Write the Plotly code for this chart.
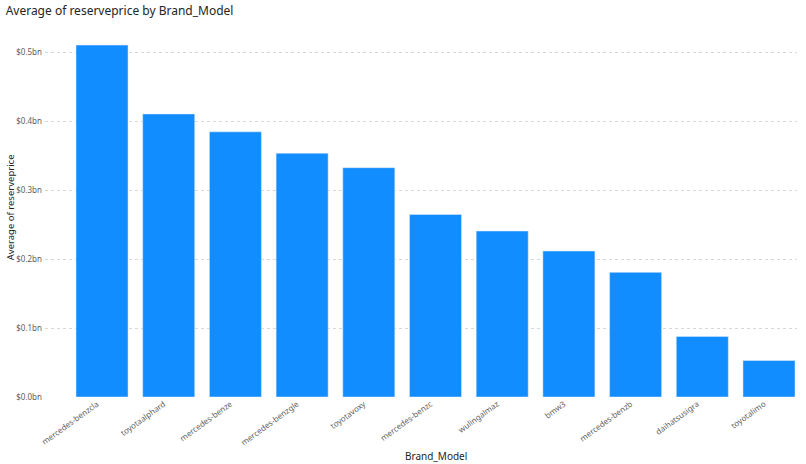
import plotly.graph_objects as go

# ================= DATA =================
brand_models = [
    "mercedes-benzcla", "toyotaalphard", "mercedes-benze", "mercedes-benzgle",
    "toyotavoxy", "mercedes-benzc", "wulingalmaz", "bmw3",
    "mercedes-benzb", "daihatsusigra", "toyotalimo",
]
avg_reserveprice_bn = [0.511, 0.411, 0.385, 0.354, 0.333, 0.265, 0.241, 0.212, 0.181, 0.088, 0.053]

y_tickvals = [0.0, 0.1, 0.2, 0.3, 0.4, 0.5]
y_ticktext = ["$0.0bn", "$0.1bn", "$0.2bn", "$0.3bn", "$0.4bn", "$0.5bn"]

plot_title = "Average of reserveprice by Brand_Model"
x_title = "Brand_Model"
y_title = "Average of reserveprice"

FONT = "Noto Sans, Roboto, sans-serif"

# ================= PLOT =================
fig = go.Figure(
    go.Bar(
        x=list(range(len(brand_models))),
        y=avg_reserveprice_bn,
        marker=dict(color="#118DFF"),
        hovertext=brand_models,
    )
)

fig.update_layout(
    width=806,
    height=464,
    plot_bgcolor="white",
    paper_bgcolor="white",
    bargap=0.22,
    showlegend=False,
    margin=dict(l=45, r=9, t=32, b=67),
    font=dict(family=FONT),
    title=dict(
        text=plot_title,
        x=0.007,
        xanchor="left",
        y=0.985,
        yanchor="top",
        font=dict(size=12, color="#252423"),
    ),
)

fig.update_xaxes(
    range=[-0.855, 10.42],
    tickvals=list(range(len(brand_models))),
    ticktext=brand_models,
    tickangle=-36,
    tickfont=dict(size=8, color="#605E5C"),
    ticklabelshift=-5,
    showgrid=False,
    zeroline=False,
    showline=False,
    ticks="",
    automargin=False,
)

fig.update_yaxes(
    range=[0, 0.53],
    tickvals=y_tickvals,
    ticktext=y_ticktext,
    tickfont=dict(size=8, color="#605E5C"),
    showgrid=True,
    gridcolor="#D8D8D8",
    griddash="dot",
    gridwidth=1,
    zeroline=False,
    showline=False,
    ticks="",
    ticklabelstandoff=2,
    automargin=False,
)

# as titels (Power BI centreert op de categorieen)
fig.add_annotation(
    text=x_title,
    xref="x", x=5,
    yref="paper", y=0, yanchor="middle",
    yshift=-59,
    showarrow=False,
    font=dict(size=10, color="#252423"),
)
fig.add_annotation(
    text=y_title,
    xref="paper", x=0, xanchor="center",
    xshift=-35,
    yref="paper", y=0.52, yanchor="middle",
    textangle=-90,
    showarrow=False,
    font=dict(size=9.5, color="#252423"),
)

# body-marge van de browser weghalen, geen modebar
fig.write_html(
    "out.html",
    config={"displayModeBar": False},
    post_script="document.body.style.margin='0';",
)
